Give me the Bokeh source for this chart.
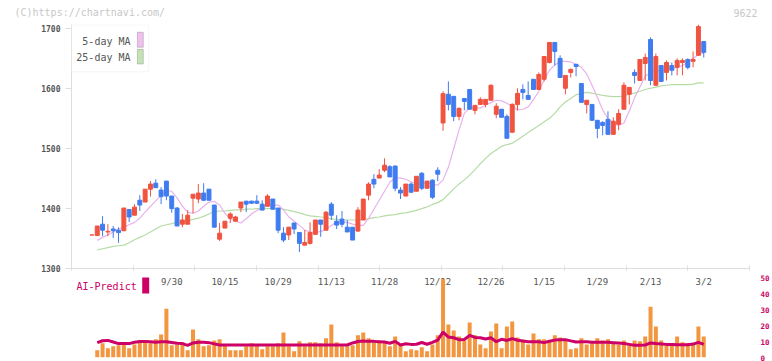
import numpy as np
from bokeh.plotting import figure
from bokeh.layouts import column, row
from bokeh.models import Range1d, FixedTicker, Label, BoxAnnotation, ColumnDataSource
from bokeh.core.properties import value
from bokeh.embed import file_html
from bokeh.resources import INLINE

# ---------------- data ----------------
opens = [1356, 1355, 1374, 1361, 1366, 1364, 1363, 1398.6, 1389, 1414,
         1411, 1432.5, 1442.5, 1431, 1446, 1421, 1401, 1374, 1374, 1417.5,
         1416, 1426, 1432.5, 1406, 1349, 1367.5, 1384, 1379, 1401, 1412.5,
         1412.5, 1412.5, 1407.5, 1404, 1416, 1401, 1359, 1356, 1376, 1360,
         1339, 1342, 1357, 1381, 1364, 1407.5, 1379, 1382.5, 1369, 1369,
         1362.5, 1381, 1422.5, 1449, 1451, 1464, 1470, 1471, 1431, 1421,
         1441, 1429, 1459, 1434, 1447.5, 1464, 1543, 1591, 1587.5, 1554,
         1584, 1599, 1564, 1574, 1574, 1581, 1557.5, 1566, 1554, 1527.5,
         1574, 1599, 1589, 1616, 1599, 1616, 1644, 1677.5, 1651, 1601,
         1627.5, 1641, 1609, 1574, 1574, 1547.5, 1544, 1549, 1524, 1541,
         1566, 1591, 1627.5, 1614, 1642.5, 1682.5, 1606, 1639, 1627.5, 1639,
         1636, 1644, 1649, 1646, 1656, 1679]
highs = [1356, 1371, 1387.5, 1374, 1371, 1368.6, 1401, 1399, 1407.5, 1422.5,
         1432.5, 1446, 1449, 1436, 1446, 1421, 1402.5, 1391, 1397.5, 1424,
         1441, 1442.5, 1432.5, 1406, 1376, 1379, 1394, 1388, 1411, 1412.5,
         1413, 1422.5, 1414, 1424, 1416, 1401, 1369, 1369, 1376, 1360,
         1364, 1377, 1381, 1381, 1396, 1411, 1389, 1396, 1381, 1369,
         1402.5, 1416, 1444, 1457.5, 1466, 1484, 1472.5, 1472.5, 1436, 1441,
         1444, 1454, 1461, 1446, 1449, 1469, 1596, 1612.5, 1587.5, 1569,
         1584, 1599, 1572.5, 1586, 1582.5, 1607.5, 1576, 1566, 1557.5, 1576,
         1601, 1607.5, 1612.5, 1616, 1627.5, 1654, 1677.5, 1677.5, 1656, 1622.5,
         1634, 1641, 1609, 1581, 1574, 1547.5, 1546, 1562.5, 1552.5, 1566,
         1611, 1602.5, 1632.5, 1649, 1659, 1686, 1659, 1639, 1647.5, 1644,
         1651, 1651, 1651, 1662.5, 1707.5, 1679]
lows = [1356, 1355, 1354, 1354, 1351, 1343, 1363, 1377.5, 1389, 1396,
        1411, 1420, 1435, 1407.5, 1414, 1393, 1371, 1369, 1374, 1392.5,
        1409, 1412.5, 1414, 1369, 1346, 1367.5, 1376, 1378, 1394, 1394,
        1408, 1407.5, 1397.5, 1404, 1399, 1359, 1344, 1347.5, 1357.5, 1327.5,
        1339, 1340, 1357, 1353, 1364, 1381, 1366, 1369, 1361, 1347.5,
        1361, 1381, 1414, 1434, 1451, 1461, 1453, 1429, 1416, 1421,
        1426, 1429, 1431, 1434, 1416, 1446, 1530, 1564, 1546, 1547.5,
        1564, 1566, 1557.5, 1574, 1569, 1581, 1551, 1552.5, 1517.5, 1527.5,
        1564, 1582.5, 1582.5, 1599, 1599, 1612.5, 1642.5, 1639, 1619, 1591,
        1619, 1621, 1577.5, 1559, 1547.5, 1517.5, 1522.5, 1524, 1524, 1531,
        1566, 1574, 1609, 1614, 1614, 1606, 1606, 1612.5, 1614, 1622.5,
        1622.5, 1622.5, 1632.5, 1636, 1656, 1652.5]
closes = [1356, 1371, 1364, 1362, 1363, 1360, 1401, 1386, 1402.5, 1406,
          1432.5, 1441, 1435, 1420, 1421, 1400, 1371, 1381, 1389, 1424,
          1426, 1414, 1414, 1369, 1359, 1379, 1391, 1386, 1411, 1407.5,
          1409, 1409, 1397.5, 1421, 1399, 1364, 1347.5, 1369, 1366, 1342,
          1343.5, 1360, 1381, 1374, 1394, 1389, 1372.5, 1374, 1361, 1347.5,
          1397.5, 1416, 1441, 1441, 1456, 1472.5, 1453, 1434, 1426, 1441,
          1427.5, 1454, 1434, 1446, 1419, 1457.5, 1592, 1574, 1554, 1567.5,
          1579, 1566, 1572.5, 1582.5, 1582.5, 1606, 1571, 1552.5, 1517.5, 1574,
          1592.5, 1594, 1582.5, 1599, 1624, 1654, 1677.5, 1662.5, 1619, 1622.5,
          1632.5, 1637.5, 1577.5, 1581, 1547.5, 1534, 1539, 1524, 1546, 1559,
          1606, 1602.5, 1622.5, 1649, 1652.5, 1614, 1654, 1612.5, 1644, 1631,
          1647.5, 1647.5, 1636, 1649, 1704, 1661]

# series below start at the 2nd candle
ma5 = [1347, 1352, 1356, 1361, 1366, 1369, 1373, 1377, 1384, 1394,
       1404, 1413, 1422, 1430, 1429, 1418, 1404, 1394, 1392, 1396,
       1404, 1411, 1412, 1406, 1392, 1383, 1379, 1376, 1383, 1391,
       1397, 1401, 1405, 1406, 1406, 1398, 1386, 1379, 1372, 1364,
       1361, 1360, 1362, 1365, 1372, 1378, 1378, 1377, 1374, 1372,
       1372, 1384, 1399, 1414, 1429, 1444, 1452, 1451, 1449, 1445,
       1441, 1442, 1443, 1441, 1439, 1448, 1469, 1500, 1531, 1559,
       1568, 1568, 1568, 1573, 1577, 1581, 1580, 1576, 1571, 1565,
       1566, 1570, 1582, 1596, 1615, 1631, 1640, 1646, 1646, 1645,
       1641, 1636, 1625, 1606, 1586, 1565, 1550, 1542, 1539, 1543,
       1563, 1585, 1603, 1621, 1627, 1630, 1631, 1632, 1634, 1636,
       1639, 1644, 1651, 1657, 1660]
ma25 = [1331, 1333, 1335, 1337, 1338, 1339, 1343, 1348, 1352, 1356,
        1361, 1366, 1371, 1373, 1375, 1377, 1378, 1380, 1382, 1384,
        1387, 1391, 1395, 1396, 1396, 1397, 1398, 1398, 1399, 1399,
        1400, 1400, 1400, 1400, 1400, 1399, 1397, 1395, 1393, 1390,
        1388, 1387, 1386, 1385, 1383, 1382, 1381, 1381, 1381, 1381,
        1382, 1383, 1385, 1386, 1388, 1389, 1390, 1392, 1393, 1395,
        1397, 1400, 1403, 1407, 1410, 1415, 1424, 1433, 1441, 1448,
        1456, 1465, 1475, 1484, 1492, 1498, 1504, 1507, 1509, 1515,
        1521, 1527, 1533, 1539, 1545, 1551, 1559, 1570, 1578, 1584,
        1590, 1593, 1594, 1593, 1591, 1589, 1588, 1587, 1587, 1588,
        1591, 1593, 1596, 1599, 1601, 1603, 1605, 1606, 1607, 1607,
        1607, 1607, 1608, 1610, 1610]
volume = [4.6, 9.0, 5.8, 7.1, 7.7, 8.3, 5.8, 8.3, 9.6, 9.6,
          9.0, 11.5, 14.6, 30.8, 7.7, 8.3, 9.6, 4.6, 17.7, 11.5,
          7.1, 7.7, 10.8, 11.5, 8.3, 4.6, 4.6, 4.6, 7.1, 9.0,
          8.3, 5.2, 7.1, 7.1, 9.0, 15.8, 7.1, 4.0, 10.2, 7.1,
          9.6, 9.6, 9.0, 12.1, 20.8, 9.6, 7.1, 7.1, 7.7, 14.0,
          15.8, 12.1, 9.6, 9.6, 9.6, 7.1, 13.3, 7.7, 4.0, 5.2,
          4.6, 6.5, 4.0, 8.3, 14.0, 49.6, 20.8, 17.1, 13.3, 10.8,
          22.1, 14.0, 8.3, 5.8, 16.5, 21.5, 5.8, 19.6, 22.7, 12.7,
          10.2, 8.3, 15.2, 11.5, 11.5, 10.8, 14.0, 12.7, 11.5, 5.2,
          5.8, 12.1, 8.3, 9.6, 12.1, 10.8, 11.5, 9.6, 8.3, 10.8,
          7.7, 10.8, 10.2, 13.3, 32.1, 19.6, 10.8, 7.7, 7.7, 13.3,
          9.6, 9.0, 9.0, 19.6, 13.3]
ai_predict = [9.4, 10.6, 10.8, 9.8, 8.8, 8.8, 8.8, 9.6, 10.1, 10.1,
              10.0, 9.6, 10.0, 10.0, 9.5, 9.0, 8.8, 7.7, 9.2, 9.7,
              9.6, 9.4, 8.6, 7.9, 7.9, 7.9, 7.9, 7.9, 7.9, 7.9,
              7.9, 7.9, 7.9, 7.9, 7.9, 7.9, 7.9, 7.9, 7.9, 7.9,
              7.9, 7.9, 7.9, 7.9, 7.9, 7.9, 7.9, 7.9, 9.2, 10.1,
              10.4, 10.2, 10.2, 10.0, 9.8, 9.0, 10.2, 7.9, 8.7, 8.3,
              8.4, 9.5, 8.4, 9.6, 11.0, 16.0, 12.9, 12.5, 11.3, 11.4,
              14.0, 12.7, 12.5, 11.7, 12.5, 10.0, 11.5, 10.8, 11.9, 10.9,
              10.5, 10.0, 10.0, 10.0, 9.4, 10.3, 11.0, 11.3, 11.3, 10.5,
              9.8, 10.0, 9.9, 9.6, 9.6, 9.6, 9.6, 9.4, 9.2, 8.8,
              8.3, 7.7, 7.8, 7.9, 9.2, 8.8, 8.6, 8.3, 8.2, 8.1,
              8.1, 8.1, 8.5, 9.6, 8.3]

tick_labels = ["9/30", "10/15", "10/29", "11/13", "11/28", "12/12",
               "12/26", "1/15", "1/29", "2/13", "3/2"]
tick_index = [15, 25, 35, 45, 55, 65, 75, 85, 95, 105, 115]
price_ticks = [1300, 1400, 1500, 1600, 1700]
volume_ticks = [0, 10, 20, 30, 40, 50]

# ---------------- styling ----------------
RED = "#f0533f"
BLUE = "#3f7cf0"
ORANGE = "#f2963f"
MAGENTA = "#cc0066"
PINK = "#e8b2ec"
GREEN = "#b6dca6"
AXIS = "#dedede"
TXT = "#555555"
MONO = "DejaVu Sans Mono"
W = 772

n = len(closes)
idx = np.arange(n)
sub = idx[1:]
o = np.array(opens, dtype=float)
c = np.array(closes, dtype=float)
colors = [RED if cc >= oo else BLUE for oo, cc in zip(o, c)]

X0, X1 = -3.84, 123.6
Y0, Y1 = 1300, 1707.5


def clean(fig):
    fig.grid.visible = False
    fig.outline_line_color = None
    fig.background_fill_color = "white"
    fig.border_fill_color = "white"


# ---------------- header strip (watermark + code) ----------------
p0 = figure(width=W, height=24, x_range=Range1d(0, W), y_range=Range1d(0, 24),
            output_backend="svg", toolbar_location=None,
            x_axis_location=None, y_axis_location=None,
            min_border_left=0, min_border_right=0, min_border_top=0, min_border_bottom=0)
clean(p0)
p0.text(x=[14], y=[12], text=["(C)https://chartnavi.com/"], text_align="left",
        text_baseline="middle", text_font=value(MONO), text_font_size="10px",
        text_color="#c8c8c8")
p0.text(x=[757], y=[12], text=["9622"], text_align="right",
        text_baseline="middle", text_font=value(MONO), text_font_size="10px",
        text_color="#c8c8c8")

# ---------------- main price chart ----------------
p1 = figure(width=W, height=250, x_range=Range1d(X0, X1), y_range=Range1d(Y0, Y1),
            output_backend="svg", toolbar_location=None,
            min_border_left=71, min_border_right=20, min_border_top=0, min_border_bottom=6)
clean(p1)

xa = p1.xaxis[0]
xa.ticker = FixedTicker(ticks=[], minor_ticks=list(np.linspace(X0, X1, 12)))
xa.major_tick_in = 0
xa.major_tick_out = 0
xa.major_label_standoff = 0
xa.minor_tick_in = 3
xa.minor_tick_out = 2
xa.minor_tick_line_color = AXIS
xa.axis_line_color = AXIS
xa.major_tick_line_color = None

ya = p1.yaxis[0]
ya.ticker = FixedTicker(ticks=price_ticks)
ya.major_tick_in = 0
ya.major_tick_out = 6
ya.minor_tick_line_color = None
ya.axis_line_color = AXIS
ya.major_tick_line_color = AXIS
ya.major_label_text_font = MONO
ya.major_label_text_font_size = "8px"
ya.major_label_text_font_style = "bold"
ya.major_label_text_color = TXT
ya.major_label_standoff = 5

src = ColumnDataSource(dict(x=idx, o=o, h=highs, l=lows, c=c,
                            top=np.maximum(o, c), bot=np.minimum(o, c), col=colors))
p1.line(sub, ma25, line_color=GREEN, line_width=1.2)
p1.line(sub, ma5, line_color=PINK, line_width=1.2)
p1.segment(x0="x", y0="l", x1="x", y1="h", color="col", line_width=1, source=src)
p1.vbar(x="x", top="top", bottom="bot", width=0.74, fill_color="col",
        line_color="col", line_width=1, source=src)

# legend (drawn manually: text then swatch)
p1.add_layout(BoxAnnotation(left=X0, right=10.67, top=1707.0, bottom=1628.5,
                            fill_color="white", fill_alpha=1, line_color="#e2e2e2", line_width=1))
p1.add_layout(BoxAnnotation(left=8.55, right=9.65, top=1694.5, bottom=1669.5,
                            fill_color="#f0c0f0", fill_alpha=1, line_color="#666666", line_width=1))
p1.add_layout(BoxAnnotation(left=8.55, right=9.65, top=1666.0, bottom=1641.5,
                            fill_color="#c4e2b4", fill_alpha=1, line_color="#666666", line_width=1))
for txt, yy in (("5-day MA", 1679.0), ("25-day MA", 1652.5)):
    p1.add_layout(Label(x=7.25, y=yy, text=txt, text_align="right", text_baseline="middle",
                        text_font=MONO, text_font_size="10px", text_color=TXT))

# ---------------- volume / AI panel ----------------
p2 = figure(width=W, height=87, x_range=p1.x_range, y_range=Range1d(0, 52.5),
            output_backend="svg", toolbar_location=None,
            x_axis_location=None, y_axis_location="right",
            min_border_left=71, min_border_right=20, min_border_top=0, min_border_bottom=4)
clean(p2)
ra = p2.yaxis[0]
ra.ticker = FixedTicker(ticks=volume_ticks)
ra.axis_line_color = None
ra.major_tick_line_color = None
ra.minor_tick_line_color = None
ra.major_label_text_font = MONO
ra.major_label_text_font_size = "7.5px"
ra.major_label_text_font_style = "bold"
ra.major_label_text_color = MAGENTA
ra.major_label_standoff = 5

lab_src = ColumnDataSource(dict(x=tick_index, y=[47.5] * len(tick_index), t=tick_labels))
p2.text(x="x", y="y", text="t", source=lab_src, text_align="center", text_baseline="middle",
        text_font=value(MONO), text_font_size="9px", text_color=TXT)
p2.add_layout(Label(x=-2.9, y=44.9, text="AI-Predict", text_align="left", text_baseline="middle",
                    text_font=MONO, text_font_size="10px", text_color=MAGENTA))
p2.add_layout(BoxAnnotation(left=9.45, right=10.76, top=50.6, bottom=40.5,
                            fill_color=MAGENTA, fill_alpha=1, line_color=None))

p2.vbar(x=sub, top=volume, width=0.75, fill_color=ORANGE, line_color=None)
p2.line(sub, ai_predict, line_color=MAGENTA, line_width=3)

layout = column(row(p0), p1, p2)
open("out.html", "w").write(file_html(layout, INLINE))
